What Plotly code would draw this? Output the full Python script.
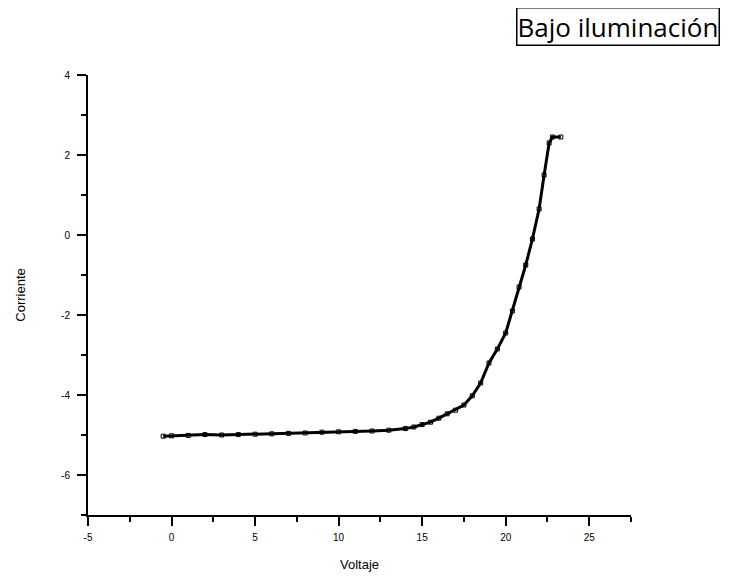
import plotly.graph_objects as go

# Data
voltaje = [-0.5, 0, 1, 2, 3, 4, 5, 6, 7, 8, 9, 10, 11, 12, 13, 14, 14.5, 15,
           15.5, 16, 16.5, 17, 17.5, 18, 18.5, 19, 19.5, 20, 20.4, 20.8, 21.2,
           21.6, 22.0, 22.3, 22.6, 22.8, 23.3]
corriente = [-5.03, -5.02, -5.01, -4.99, -5.0, -4.99, -4.98, -4.97, -4.96, -4.95,
             -4.93, -4.92, -4.91, -4.90, -4.88, -4.84, -4.80, -4.74, -4.68, -4.58,
             -4.47, -4.38, -4.25, -4.02, -3.70, -3.20, -2.85, -2.45, -1.9, -1.3,
             -0.75, -0.1, 0.65, 1.5, 2.3, 2.45, 2.45]

x_ticks = [-5, 0, 5, 10, 15, 20, 25]
y_ticks = [-6, -4, -2, 0, 2, 4]

W, H = 714, 564
L, R, T, B = 80, 623, 67, 507  # plot area in figure pixels

fig = go.Figure()
fig.add_trace(go.Scatter(
    x=voltaje, y=corriente, mode="lines+markers",
    line=dict(color="black", width=3),
    marker=dict(symbol="square-open", size=4, color="black", line=dict(width=1)),
    showlegend=False,
))

tickfont = dict(family="Liberation Sans, Arial", size=10, color="black")
fig.update_layout(
    width=W, height=H,
    margin=dict(l=L, r=W - R, t=T, b=H - B, autoexpand=False),
    paper_bgcolor="white", plot_bgcolor="white",
    xaxis=dict(
        range=[-5, 27.5], tickvals=x_ticks, ticktext=[str(v) for v in x_ticks],
        automargin=False,
        showgrid=False, zeroline=False, showline=True, linecolor="black", linewidth=2,
        ticks="outside", ticklen=9, tickwidth=2, tickcolor="black", ticklabelstandoff=3,
        minor=dict(dtick=2.5, ticks="outside", ticklen=5, tickwidth=2, tickcolor="black", showgrid=False),
        tickfont=tickfont,
        title=dict(text="Voltaje", font=dict(family="Liberation Sans, Arial", size=13, color="black"), standoff=18),
    ),
    yaxis=dict(
        range=[-7, 4], tickvals=y_ticks, ticktext=[str(v) for v in y_ticks],
        automargin=False,
        showgrid=False, zeroline=False, showline=True, linecolor="black", linewidth=2,
        ticks="outside", ticklen=9, tickwidth=2, tickcolor="black", ticklabelstandoff=5,
        minor=dict(dtick=1, ticks="outside", ticklen=5, tickwidth=2, tickcolor="black", showgrid=False),
        tickfont=tickfont,
        title=dict(text="Corriente", font=dict(family="Liberation Sans, Arial", size=13, color="black"), standoff=33),
    ),
    annotations=[dict(
        text="Bajo iluminación", xref="paper", yref="paper",
        x=(712 - L) / (R - L), y=(B + 1) / (B - T), xanchor="right", yanchor="top",
        showarrow=False, font=dict(family="Open Sans", size=26, color="black"),
        bordercolor="black", borderwidth=1.5, borderpad=0, bgcolor="white",
    )],
)

fig.write_html("out.html")
